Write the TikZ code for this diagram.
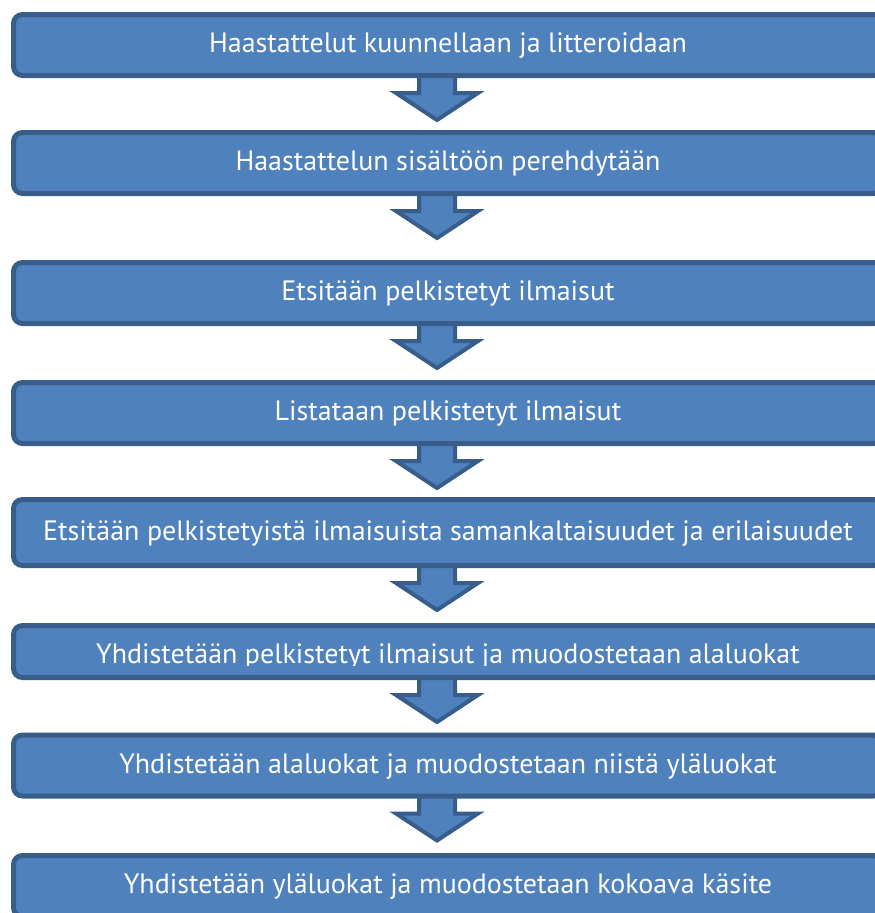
\documentclass[tikz,border=0pt]{standalone}
\usepackage{fontspec}
\setmainfont{PT Sans}
\usetikzlibrary{backgrounds}
\definecolor{boxfill}{HTML}{4F81BD}
\definecolor{boxline}{HTML}{385D8A}
\tikzset{
  vaihe/.style={draw=boxline,fill=boxfill,line width=5pt,rounded corners=9pt,
    minimum width=869pt,minimum height=61pt,inner sep=0pt,
    text=white,font=\fontsize{28}{32}\selectfont,text height=15pt,text depth=0pt},
  nuoli/.style={draw=boxline,fill=boxfill,line width=4pt}
}
\begin{document}
\begin{tikzpicture}[x=1pt,y=-1pt]
\clip(0,0)rectangle(875,913);
\node[vaihe](b1)at(448,45){Haastattelut kuunnellaan ja litteroidaan};
\node[vaihe](b2)at(448,163){Haastattelun sisältöön perehdytään};
\node[vaihe](b3)at(448,293){Etsitään pelkistetyt ilmaisut};
\node[vaihe](b4)at(448,413){Listataan pelkistetyt ilmaisut};
\node[vaihe,minimum height=66pt](b5)at(448,532.5){Etsitään pelkistetyistä ilmaisuista samankaltaisuudet ja erilaisuudet};
\node[vaihe,minimum height=52pt](b6)at(448,651.5){};
\node[vaihe](b7)at(448,765.5){Yhdistetään alaluokat ja muodostetaan niistä yläluokat};
\node[vaihe](b8)at(448,886){Yhdistetään yläluokat ja muodostetaan kokoava käsite};
% teksti leikkautuu laatikon alaosasta
\scope
\clip(0,600)rectangle(875,665);
\node[text=white,font=\fontsize{28}{32}\selectfont,anchor=base](t6)at(448,663){Yhdistetään pelkistetyt ilmaisut ja muodostetaan alaluokat};
\endscope
\begin{pgfonlayer}{background}
\foreach \i in {1,...,7}
  \draw[nuoli]([xshift=-11pt]b\i.south)++(-18,-6)--++(36,0)--++(0,21)--++(23,0)
    --++(-41,27)--++(-41,-27)--++(23,0)--cycle;
\end{pgfonlayer}
\end{tikzpicture}
\end{document}
